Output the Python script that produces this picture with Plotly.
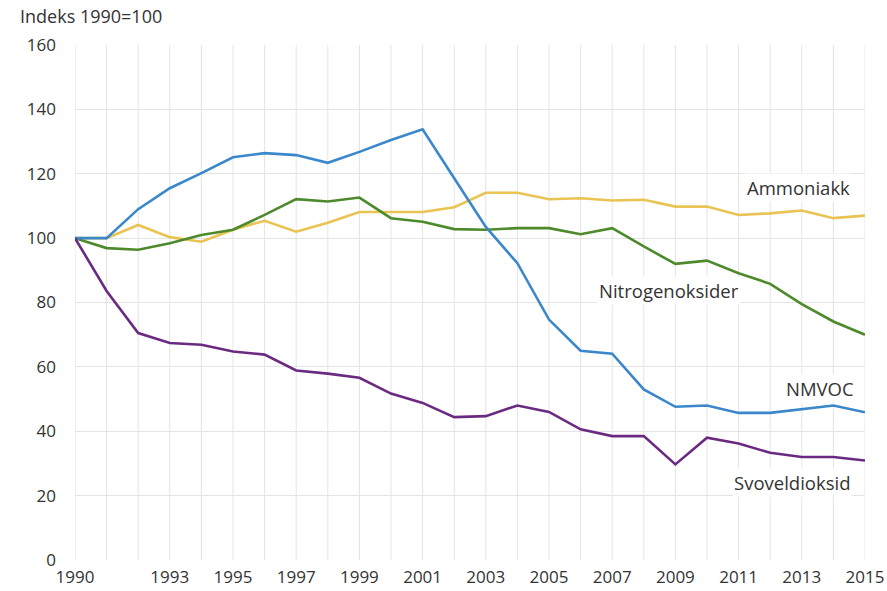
import plotly.graph_objects as go

years = list(range(1990, 2016))

nmvoc = [100, 100, 109, 115.5, 120.2, 125.1, 126.4, 125.8, 123.4, 126.8, 130.5, 133.8,
         118.6, 103.5, 92.2, 74.7, 65, 64.1, 53, 47.6, 48, 45.7, 45.7, 46.8, 48, 45.9]
svoveldioksid = [100, 83.6, 70.5, 67.4, 66.9, 64.8, 63.8, 58.9, 57.9, 56.6, 51.7, 48.8,
                 44.4, 44.7, 48, 46, 40.6, 38.5, 38.5, 29.7, 38, 36.2, 33.3, 32, 32, 30.9]
ammoniakk = [100, 100, 104.1, 100.3, 98.9, 102.6, 105.4, 102, 104.8, 108.1, 108.1, 108.1,
             109.6, 114.1, 114.1, 112.1, 112.4, 111.7, 111.9, 109.8, 109.8, 107.2, 107.7, 108.6, 106.2, 107]
nitrogenoksider = [100, 96.9, 96.4, 98.4, 101, 102.6, 107.2, 112.1, 111.4, 112.6, 106.2, 105.1,
                   102.8, 102.6, 103.1, 103.1, 101.2, 103.1, 97.4, 92, 93, 89.1, 85.8, 79.5, 74.1, 70]

series = [
    ("Ammoniakk", ammoniakk, "#e9c452"),
    ("Nitrogenoksider", nitrogenoksider, "#4d8a2b"),
    ("NMVOC", nmvoc, "#3a88cb"),
    ("Svoveldioksid", svoveldioksid, "#6b2a82"),
]

# label positions (year, value)
labels = [
    ("Ammoniakk", 2014.6, 115.6, "right"),
    ("Nitrogenoksider", 2008.8, 83.7, "center"),
    ("NMVOC", 2014.7, 53.2, "right"),
    ("Svoveldioksid", 2014.6, 24.2, "right"),
]

tick_years = [1990, 1993, 1995, 1997, 1999, 2001, 2003, 2005, 2007, 2009, 2011, 2013, 2015]

fig = go.Figure()
for name, vals, color in series:
    fig.add_trace(go.Scatter(x=years, y=vals, mode="lines", name=name,
                             line=dict(color=color, width=2.6)))

for text, x, y, anchor in labels:
    fig.add_annotation(x=x, y=y, text=text, showarrow=False, xanchor=anchor,
                       font=dict(size=18.5, color="#333333"), bgcolor="white")

fig.add_annotation(xref="paper", yref="paper", x=-0.072, y=1.056, xanchor="left", yanchor="middle",
                   text="Indeks 1990=100", showarrow=False,
                   font=dict(size=18, color="#333333"))

grid = "#e4e4e4"
fig.update_layout(
    width=887, height=591,
    margin=dict(l=75, r=22, t=45, b=31),
    plot_bgcolor="white", paper_bgcolor="white",
    showlegend=False,
    font=dict(family="Open Sans", size=17, color="#333333"),
    xaxis=dict(range=[1990, 2015], tickvals=tick_years, showgrid=False, automargin=False,
               zeroline=False, showline=False, ticks="", ticklabelstandoff=5,
               ticklabeloverflow="allow"),
    yaxis=dict(range=[0, 160], dtick=20, gridcolor=grid, gridwidth=1, automargin=False,
               zeroline=False, showline=False, ticks="", ticklabelstandoff=18),
)

# yearly vertical gridlines
for yr in years:
    fig.add_vline(x=yr, line=dict(color=grid, width=1), layer="below")

# drop the default 8px body margin so the figure fills the window
fig.write_html("out.html", config={"displayModeBar": False},
               post_script="document.body.style.margin='0';document.body.style.overflow='hidden';")
